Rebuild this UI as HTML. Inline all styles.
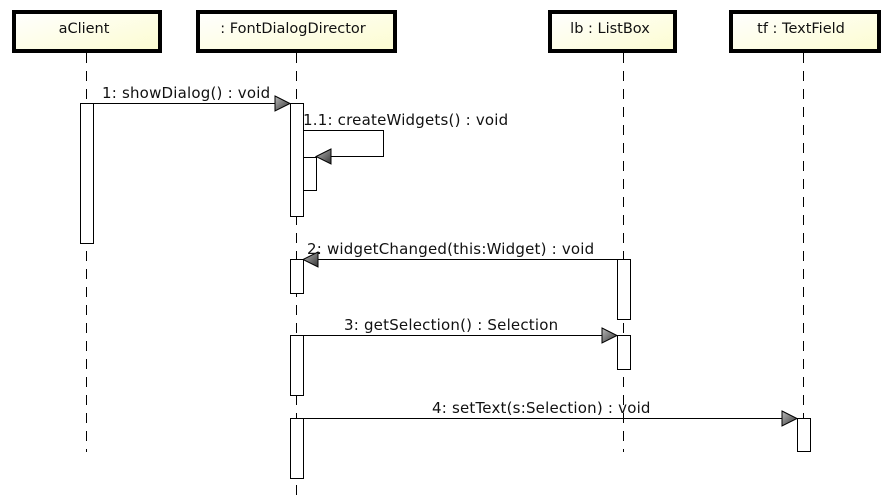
<!DOCTYPE html>
<html><head><meta charset="utf-8"><style>
html,body{margin:0;padding:0;background:#fff;}
svg{display:block;}
text{font-family:"DejaVu Sans","Liberation Sans",sans-serif;font-size:15px;letter-spacing:0.2px;fill:#111;}
text.h{font-size:14.5px;letter-spacing:0;}
</style></head><body>
<svg width="894" height="502" viewBox="0 0 894 502" xmlns="http://www.w3.org/2000/svg">
<defs>
<linearGradient id="bg" x1="0" y1="0" x2="1" y2="1">
<stop offset="0" stop-color="#ffffff"/><stop offset="1" stop-color="#fcfcd0"/></linearGradient>
<linearGradient id="ag" x1="0" y1="0" x2="1" y2="1">
<stop offset="0" stop-color="#bbbbbb"/><stop offset="1" stop-color="#333333"/></linearGradient>
</defs>
<g stroke="#000" stroke-width="1" stroke-dasharray="10,8" fill="none">
<line x1="86.5" y1="53" x2="86.5" y2="452"/>
<line x1="296.5" y1="53" x2="296.5" y2="498"/>
<line x1="623.5" y1="53" x2="623.5" y2="452"/>
<line x1="803.5" y1="53" x2="803.5" y2="452"/>
</g>
<g stroke="#000" stroke-width="4" fill="url(#bg)">
<rect x="14" y="12" width="146" height="39"/>
<rect x="198" y="12" width="197" height="39"/>
<rect x="550" y="12" width="125" height="39"/>
<rect x="731" y="12" width="148" height="39"/>
</g>
<text class="h" x="84" y="33" text-anchor="middle">aClient</text>
<text class="h" x="293" y="33" text-anchor="middle">: FontDialogDirector</text>
<text class="h" x="610" y="33" text-anchor="middle">lb : ListBox</text>
<text class="h" x="801" y="33" text-anchor="middle">tf : TextField</text>
<g stroke="#000" stroke-width="1" fill="#fff">
<rect x="80.5" y="103.5" width="13" height="140"/>
<rect x="290.5" y="103.5" width="13" height="113"/>
<rect x="303.5" y="157.5" width="13" height="33"/>
<rect x="290.5" y="259.5" width="13" height="34"/>
<rect x="290.5" y="335.5" width="13" height="60"/>
<rect x="290.5" y="418.5" width="13" height="60"/>
<rect x="617.5" y="259.5" width="13" height="60"/>
<rect x="617.5" y="335.5" width="13" height="34"/>
<rect x="797.5" y="418.5" width="13" height="33"/>
</g>
<g stroke="#000" stroke-width="1" fill="none">
<line x1="93" y1="103.5" x2="276" y2="103.5"/>
<polyline points="303,130.5 383.5,130.5 383.5,156.5 330,156.5"/>
<line x1="617" y1="259.5" x2="318" y2="259.5"/>
<line x1="303" y1="335.5" x2="602" y2="335.5"/>
<line x1="303" y1="418.5" x2="782" y2="418.5"/>
</g>
<g stroke="#000" stroke-width="1" fill="url(#ag)">
<polygon points="275,96 290,103.5 275,111"/>
<polygon points="331,149 316,156.5 331,164"/>
<polygon points="318,252 303,259.5 318,267"/>
<polygon points="602,328 617,335.5 602,343"/>
<polygon points="782,411 797,418.5 782,426"/>
</g>
<text x="102" y="98">1: showDialog() : void</text>
<text x="303" y="125">1.1: createWidgets() : void</text>
<text x="307" y="254">2: widgetChanged(this:Widget) : void</text>
<text x="344" y="330">3: getSelection() : Selection</text>
<text x="432" y="413">4: setText(s:Selection) : void</text>
</svg>
</body></html>
